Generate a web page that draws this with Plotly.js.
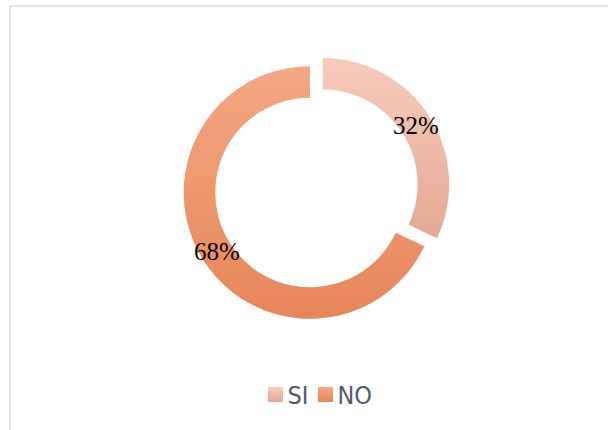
<!DOCTYPE html>
<html>
<head>
<meta charset="utf-8">
<script src="https://cdn.plot.ly/plotly-3.0.1.min.js"></script>
<style>
  html, body { margin: 0; padding: 0; background: #ffffff; }
  #wrap { position: relative; width: 608px; height: 430px; overflow: hidden; }
  #frame { position: absolute; left: 9px; top: 5px; width: 640px; height: 460px;
           border: 2px solid #e2e6eb; box-sizing: border-box; pointer-events: none; }
  #chart { position: absolute; left: 0; top: 0; width: 608px; height: 430px; }
</style>
</head>
<body>
<div id="wrap">
  <div id="frame"></div>
  <div id="chart"></div>
</div>
<script>
// ---- data ----
const labels = ['SI', 'NO'];
const values = [32, 68];
const pulls = [0.12, 0];
const colors = ['#f3bda8', '#ee9a6c'];
const gradTop = ['#f8cbbb', '#f4a882'];
const gradBottom = ['#e4a994', '#e7855a'];

// ---- layout constants ----
const W = 608, H = 430;
const margin = { l: 20, r: 8, t: 51, b: 96, pad: 0 };
const hole = 0.75;
const legendStep = 50;

const total = values.reduce((a, b) => a + b, 0);
const plotW = W - margin.l - margin.r;
const plotH = H - margin.t - margin.b;
const maxPull = Math.max(...pulls);
const R = Math.min(plotW, plotH) / (2 + 2 * maxPull);

// percentage labels placed on the ring mid-line, derived from the values
const annotations = [];
let cum = 0;
values.forEach((v, i) => {
  const f = (cum + v / 2) / total;
  cum += v;
  const th = 2 * Math.PI * f;
  const dist = pulls[i] * R + R * (1 + hole) / 2;
  const dx = Math.sin(th) * dist;
  const dy = Math.cos(th) * dist;
  annotations.push({
    xref: 'paper', yref: 'paper',
    x: 0.5 + dx / plotW, y: 0.5 + dy / plotH,
    xanchor: 'center', yanchor: 'middle',
    showarrow: false,
    text: Math.round(v / total * 100) + '%',
    font: { family: 'Liberation Serif, Times New Roman, serif', size: 25, color: '#000000' }
  });
});

const trace = {
  type: 'pie',
  labels: labels,
  values: values,
  pull: pulls,
  hole: hole,
  sort: false,
  direction: 'clockwise',
  rotation: 0,
  textinfo: 'none',
  marker: { colors: colors, line: { color: '#ffffff', width: 0 } },
  domain: { x: [0, 1], y: [0, 1] }
};

const layout = {
  width: W, height: H,
  margin: margin,
  paper_bgcolor: 'rgba(0,0,0,0)',
  plot_bgcolor: 'rgba(0,0,0,0)',
  showlegend: true,
  legend: {
    orientation: 'h',
    x: 0.406, xanchor: 'left',
    y: -0.215, yanchor: 'middle',
    font: { family: 'Liberation Sans Narrow, DejaVu Sans Condensed, Liberation Sans, sans-serif', size: 25, color: '#4f5b6e' },
    itemclick: false
  },
  annotations: annotations
};

Plotly.newPlot('chart', [trace], layout, { displayModeBar: false, staticPlot: true }).then(gd => {
  const svg = gd.querySelector('svg.main-svg');
  const NS = 'http://www.w3.org/2000/svg';
  let defs = svg.querySelector('defs');
  if (!defs) { defs = document.createElementNS(NS, 'defs'); svg.insertBefore(defs, svg.firstChild); }
  labels.forEach((lab, i) => {
    const g = document.createElementNS(NS, 'linearGradient');
    g.setAttribute('id', 'grad' + i);
    g.setAttribute('x1', '0'); g.setAttribute('y1', '0');
    g.setAttribute('x2', '0'); g.setAttribute('y2', '1');
    const s1 = document.createElementNS(NS, 'stop');
    s1.setAttribute('offset', '0'); s1.setAttribute('stop-color', gradTop[i]);
    const s2 = document.createElementNS(NS, 'stop');
    s2.setAttribute('offset', '1'); s2.setAttribute('stop-color', gradBottom[i]);
    g.appendChild(s1); g.appendChild(s2);
    defs.appendChild(g);
  });
  const slices = gd.querySelectorAll('g.slice path.surface');
  slices.forEach((p, i) => { p.style.fill = 'url(#grad' + i + ')'; });
  const items = Array.from(gd.querySelectorAll('.legend g.traces'));
  let x0 = null, y0 = 0;
  items.forEach((it, i) => {
    const tr0 = it.getAttribute('transform') || '';
    const m = tr0.match(/translate\(\s*([-\d.]+)[ ,]+([-\d.]+)/);
    if (m) {
      if (x0 === null) { x0 = parseFloat(m[1]); y0 = parseFloat(m[2]); }
      it.setAttribute('transform', 'translate(' + (x0 + i * legendStep) + ',' + y0 + ')');
    }
    const t = it.querySelector('text.legendtext');
    if (t) t.setAttribute('x', 32);
    const p = it.querySelector('.legendpoints path');
    if (p) {
      p.style.fill = 'url(#grad' + i + ')';
      p.style.strokeWidth = '0';
      const tr = p.getAttribute('transform') || '';
      p.setAttribute('transform', tr + ' scale(1.25)');
    }
  });
});
</script>
</body>
</html>
